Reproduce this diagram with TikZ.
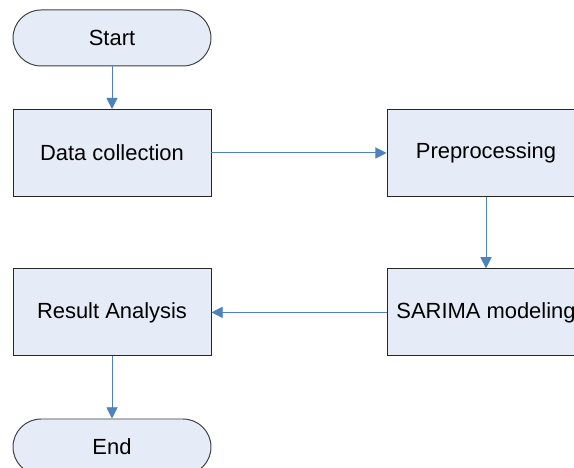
\documentclass[tikz,border=0pt]{standalone}
\usepackage{fontspec}
\setmainfont{Liberation Sans}
\usetikzlibrary{arrows.meta}

\definecolor{boxfill}{RGB}{230,236,247}
\definecolor{flowblue}{RGB}{79,129,189}

\tikzset{
  stepbox/.style={draw=black!85, fill=boxfill, line width=0.7pt,
    minimum width=4.95cm, minimum height=2.175cm, inner sep=0pt,
    font=\fontsize{15.6}{18}\selectfont},
  termbox/.style={stepbox, draw=black!75, rounded corners=0.7cm, minimum height=1.4cm},
  flow/.style={flowblue, line width=0.7pt, -{Triangle[width=8pt,length=8pt]}}
}

\begin{document}
\begin{tikzpicture}

\useasboundingbox (0,0) rectangle (14.35, 11.7);
\clip (0,0) rectangle (14.35, 11.7);

\node (start) at (2.8, 10.75) [termbox] {Start};
\node (collect) at (2.8, 7.875) [stepbox] {Data collection};
\node (prep) at (12.15, 7.875) [stepbox] {Preprocessing};
\node (sarima) at (12.15, 3.89) [stepbox] {SARIMA modeling};
\node (result) at (2.8, 3.89) [stepbox] {Result Analysis};
\node (finish) at (2.8, 0.525) [termbox] {End};

\draw [flow] (start) -- (collect);
\draw [flow] (collect) -- (prep);
\draw [flow] (prep) -- (sarima);
\draw [flow] (sarima) -- (result);
\draw [flow] (result) -- (finish);

\end{tikzpicture}
\end{document}
